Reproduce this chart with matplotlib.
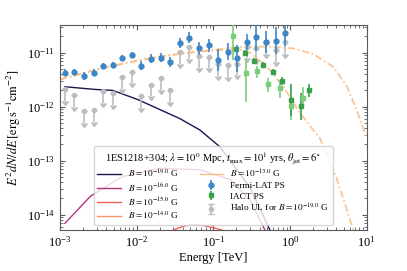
import numpy as np
import matplotlib
matplotlib.use('Agg')
import matplotlib.pyplot as plt

plt.rcParams['font.family'] = ['Liberation Serif', 'DejaVu Serif']
plt.rcParams['mathtext.fontset'] = 'stix'

# ---------------- data ----------------
# Fermi-LAT point source spectrum (TeV, erg s^-1 cm^-2)
fermi_E = [1.15e-3, 1.54e-3, 2.05e-3, 2.74e-3, 3.65e-3, 4.87e-3, 6.49e-3, 8.66e-3,
           1.15e-2, 1.54e-2, 2.05e-2, 2.74e-2, 3.65e-2, 4.87e-2, 6.49e-2, 8.66e-2,
           0.115, 0.154, 0.205, 0.274, 0.365, 0.487, 0.649, 0.866]
fermi_F = [4.27e-12, 4.37e-12, 3.72e-12, 4.27e-12, 5.62e-12, 5.89e-12, 7.94e-12, 9.12e-12,
           5.75e-12, 7.76e-12, 8.13e-12, 6.76e-12, 1.51e-11, 1.91e-11, 1.20e-11, 1.38e-11,
           7.4e-12, 1.05e-11, 7.9e-12, 1.58e-11, 1.95e-11, 1.58e-11, 1.66e-11, 2.34e-11]
fermi_err = [0.07, 0.06, 0.07, 0.07, 0.06, 0.06, 0.06, 0.06,
             0.08, 0.08, 0.08, 0.09, 0.10, 0.10, 0.12, 0.12,
             0.20, 0.15, 0.25, 0.15, 0.25, 0.20, 0.25, 0.25]

# halo upper limits for B = 1e-19 G
halo_E = fermi_E
halo_F = [2.14e-12, 1.66e-12, 8.3e-13, 8.7e-13, 1.95e-12, 1.82e-12, 3.55e-12, 4.47e-12,
          1.55e-12, 2.57e-12, 3.39e-12, 2.04e-12, 1.02e-11, 1.29e-11, 8.7e-12, 8.5e-12,
          6.2e-12, 5.9e-12, 6.3e-12, 1.3e-11, 1.2e-11, 1.55e-11, 1.12e-11, 1.55e-11]

# IACT point source spectra (two data sets)
iact1_E = [0.182, 0.266, 0.367, 0.520, 0.738, 1.03, 1.46]
iact1_F = [2.04e-11, 4.27e-12, 4.57e-12, 2.63e-12, 2.19e-12, 1.02e-12, 1.48e-12]
iact1_lo = [0.45, 0.55, 0.12, 0.15, 0.18, 0.25, 0.20]
iact1_hi = [0.20, 0.25, 0.10, 0.12, 0.15, 0.12, 0.20]
iact2_E = [0.197, 0.258, 0.341, 0.448, 0.604, 0.776, 1.03, 1.37, 1.78]
iact2_F = [1.15e-11, 9.8e-12, 7.1e-12, 5.9e-12, 4.4e-12, 3.0e-12, 1.32e-12, 1.02e-12, 2.0e-12]
iact2_err = [0.05, 0.05, 0.05, 0.05, 0.06, 0.08, 0.30, 0.25, 0.12]

# cascade spectra for different B fields
b_labels = ['-19.0', '-16.0', '-15.0', '-14.0', '-13.0']
casc19_E = [1.16e-3, 2.86e-3, 4.91e-3, 1.04e-2, 3.67e-2, 6.68e-2, 0.122, 0.30, 0.547]
casc19_F = [2.34e-12, 2.09e-12, 2.0e-12, 1.35e-12, 6.0e-13, 3.7e-13, 1.8e-13, 3.2e-14, 5.2e-15]
casc16_E = [1.16e-3, 2.5e-3, 6.37e-3, 2.01e-2, 6.68e-2, 0.164, 0.30, 0.47]
casc16_F = [6.9e-15, 2.2e-14, 5.0e-14, 7.2e-14, 6.8e-14, 4.5e-14, 1.9e-14, 5.2e-15]
casc15_E = [0.03, 0.042, 0.055, 0.075, 0.10, 0.13]
casc15_F = [5.2e-15, 6.2e-15, 6.5e-15, 6.3e-15, 5.7e-15, 5.2e-15]
casc14_E = []
casc14_F = []
casc13_E = []
casc13_F = []

# intrinsic and absorbed source spectra
intr_E = [1e-3, 2.74e-3, 7.3e-3, 2.0e-2, 5.4e-2, 0.115, 0.22, 0.5, 1.1, 2.0, 3.66, 5.5, 7.4, 9.5, 10.0]
intr_F = [3.2e-12, 4.7e-12, 6.5e-12, 8.5e-12, 1.02e-11, 1.15e-11, 1.28e-11, 1.3e-11, 1.2e-11,
          9.5e-12, 5.5e-12, 2.4e-12, 8.7e-13, 3.2e-13, 2.6e-13]
abs_E = [1e-3, 2.74e-3, 7.3e-3, 2.0e-2, 5.4e-2, 0.115, 0.22, 0.30, 0.5, 0.81, 1.35, 2.45, 4.0, 6.7]
abs_F = [3.2e-12, 4.7e-12, 6.5e-12, 8.5e-12, 1.02e-11, 1.12e-11, 1.15e-11, 1.0e-11, 5.5e-12,
         2.4e-12, 7.6e-13, 2.6e-13, 5.0e-14, 5.2e-15]

y_major_ticks = [1e-14, 1e-13, 1e-12, 1e-11]

# ---------------- plot ----------------
fig = plt.figure(figsize=(4.07, 2.71), dpi=100)
ax = fig.add_axes([60 / 407, 1 - 230 / 271, 306.7 / 407, 205 / 271])

cols = ['#221150', '#b5367a', '#f1605d', '#fc9366', '#fdbf86']
curves = [(casc19_E, casc19_F), (casc16_E, casc16_F), (casc15_E, casc15_F),
          (casc14_E, casc14_F), (casc13_E, casc13_F)]
for (e, f), c, lab in zip(curves, cols, b_labels):
    ax.plot(e, f, color=c, lw=1.0, label=r'$B = 10^{%s}$ G' % lab)

ax.plot(intr_E, intr_F, color=cols[4], lw=1.3, ls=(0, (4, 1.5, 1, 1.5)), alpha=0.9)
ax.plot(abs_E, abs_F, color=cols[4], lw=1.3, ls=(0, (4, 1.5, 1, 1.5)), alpha=0.9)

def logerr(F, lo, hi):
    F = np.asarray(F)
    return [F - F * 10 ** (-np.asarray(lo)), F * 10 ** np.asarray(hi) - F]

fF = np.array(fermi_F); fe = np.array(fermi_err)
ax.errorbar(fermi_E, fF, yerr=logerr(fF, fe, fe), fmt='o', ms=3.5, color='#3c86c6',
            ecolor='#3c86c6', elinewidth=1.2, label='Fermi-LAT PS', zorder=4)

ax.errorbar(iact1_E, iact1_F, yerr=logerr(iact1_F, iact1_lo, iact1_hi), fmt='s', ms=3.5,
            color='#7bcc7b', ecolor='#7bcc7b', elinewidth=1.2, zorder=3)
ax.errorbar(iact2_E, iact2_F, yerr=logerr(iact2_F, iact2_err, iact2_err), fmt='s', ms=3.5,
            color='#3a9e4a', ecolor='#3a9e4a', elinewidth=1.2, label='IACT PS', zorder=3)

hF = np.array(halo_F)
ax.errorbar(halo_E, hF, yerr=hF * (1 - 10 ** -0.22), uplims=True, fmt='o', ms=3.0,
            color='#bdbdbd', ecolor='#bdbdbd', elinewidth=1.2, capsize=2,
            label=r'Halo UL for $B = 10^{-19.0}$ G', zorder=2)

ax.set_xscale('log'); ax.set_yscale('log')
ax.set_xlim(1e-3, 10)
ax.set_ylim(5.2e-15, 3.26e-11)
ax.set_yticks(y_major_ticks)
ax.set_xlabel('Energy [TeV]', fontsize=9, labelpad=2)
ax.set_ylabel(r'$E^2dN/dE\,[\mathrm{erg\,s^{-1}cm^{-2}}]$', fontsize=9, labelpad=3)
ax.tick_params(which='both', direction='in', top=True, right=True, labelsize=9,
               color='0.35')
for s in ax.spines.values():
    s.set_color('0.35')

leg = ax.legend(loc='lower center', ncol=2, fontsize=6.7,
                title=r'1ES1218+304; $\lambda = 10^{0}$ Mpc, $t_\mathrm{max} = 10^{1}$ yrs, $\theta_\mathrm{jet} = 6^\circ$',
                title_fontsize=7.5, handlelength=2.5, columnspacing=2.2,
                labelspacing=0.2, borderpad=0.4, handletextpad=0.8)

fig.savefig('out.png', dpi=100)
